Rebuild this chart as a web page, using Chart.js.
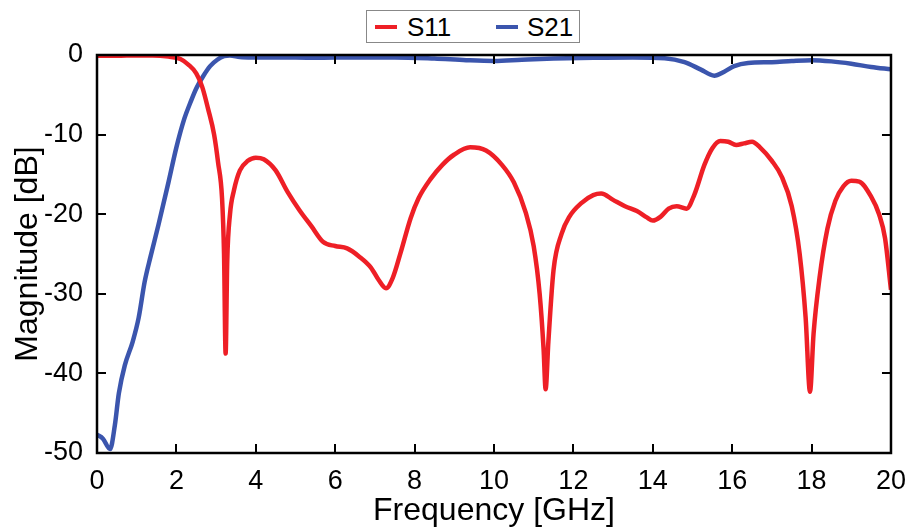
<!DOCTYPE html>
<html>
<head>
<meta charset="utf-8">
<script src="https://cdn.jsdelivr.net/npm/chart.js@4/dist/chart.umd.min.js"></script>
<style>
  html, body { margin: 0; padding: 0; background: #fff; }
  #wrap { position: relative; width: 910px; height: 530px; }
  #legend {
    position: absolute; left: 366px; top: 10px; width: 214px; height: 33px;
    border: 1px solid #888; box-sizing: border-box; background: #fff;
    font-family: "Liberation Sans", Arial, sans-serif; font-size: 26px; color: #000;
  }
  #legend .item { position: absolute; top: 0; line-height: 32px; }
  #legend .swatch { position: absolute; top: 14px; width: 22px; height: 4px; }
</style>
</head>
<body>
<div id="wrap">
  <canvas id="chart" width="910" height="530"></canvas>
  <div id="legend">
    <span class="swatch" style="left:8px;background:#ee1f26"></span>
    <span class="item" style="left:40px">S11</span>
    <span class="swatch" style="left:129px;background:#3b55ad"></span>
    <span class="item" style="left:160px">S21</span>
  </div>
</div>
<script>
// S11 (red)
const s11Freq = [0, 0.5, 1.0, 1.4, 1.8, 2.1, 2.3, 2.5, 2.65, 2.8, 2.95, 3.05, 3.15, 3.2, 3.24, 3.28, 3.35, 3.45, 3.6, 3.8,
  4.0, 4.2, 4.5, 4.8, 5.1, 5.4, 5.7, 6.0, 6.3, 6.6, 6.9, 7.1, 7.28, 7.45, 7.65, 7.9, 8.1, 8.4, 8.7, 9.0,
  9.4, 9.8, 10.2, 10.5, 10.8, 11.0, 11.15, 11.25, 11.3, 11.37, 11.5, 11.7, 11.9, 12.2, 12.5, 12.7, 13.0, 13.3, 13.6, 13.85,
  14.0, 14.2, 14.4, 14.6, 14.85, 15.05, 15.3, 15.5, 15.7, 15.9, 16.1, 16.3, 16.5, 16.7, 17.0, 17.25, 17.5, 17.7, 17.85, 17.96,
  18.05, 18.2, 18.4, 18.6, 18.8, 19.0, 19.2, 19.5, 19.7, 19.85, 20.0];
const s11Db = [-0.1, -0.1, -0.05, -0.05, -0.2, -0.5, -1.2, -2.3, -4.0, -6.8, -10, -13.5, -18, -25, -37.5, -26, -20, -17, -14.5, -13.3,
  -12.9, -13.1, -14.5, -17.2, -19.5, -21.5, -23.5, -24, -24.3, -25.3, -26.7, -28.3, -29.3, -28, -24.8, -20.5, -18, -15.6, -13.8, -12.5,
  -11.6, -12, -13.8, -16, -19.8, -24, -30, -37, -42, -36, -27, -22.5, -20.3, -18.6, -17.6, -17.4, -18.2, -19.0, -19.6, -20.4,
  -20.8, -20.3, -19.3, -19, -19.3, -17.5, -13.8, -11.7, -10.8, -10.9, -11.3, -11.1, -10.9, -11.6, -13.3, -15.3, -19, -25, -33, -42.3,
  -35, -28, -21.8, -18.3, -16.5, -15.8, -15.9, -17.8, -20, -23, -29.5];

// S21 (blue)
const s21Freq = [0, 0.15, 0.33, 0.45, 0.55, 0.7, 0.9, 1.05, 1.2, 1.35, 1.55, 1.8, 2.0, 2.2, 2.35, 2.5, 2.67, 2.85, 3.03, 3.2,
  3.35, 3.6, 3.9, 4.5, 5.5, 6.5, 7.5, 8.5, 9.3, 10.0, 10.7, 11.5, 12.5, 13.5, 14.3, 14.8, 15.2, 15.55, 15.8, 16.05,
  16.4, 17.0, 17.5, 18.0, 18.5, 19.0, 19.5, 20.0];
const s21Db = [-47.7, -48.2, -49.5, -46.5, -42.5, -39, -36, -33, -28.5, -25.3, -21.3, -16, -11.6, -8, -6, -4.2, -2.7, -1.4, -0.6, -0.15,
  -0.05, -0.25, -0.3, -0.3, -0.35, -0.3, -0.3, -0.45, -0.65, -0.75, -0.6, -0.45, -0.35, -0.3, -0.4, -0.9, -1.8, -2.6, -2.1, -1.4,
  -1.0, -0.9, -0.75, -0.65, -0.8, -1.1, -1.5, -1.8];

const xTicks = [0, 2, 4, 6, 8, 10, 12, 14, 16, 18, 20];
const yTicks = [-50, -40, -30, -20, -10, 0];

const FONT = '"Liberation Sans", Arial, sans-serif';

const toPoints = (xs, ys) => xs.map((x, i) => ({ x: x, y: ys[i] }));

// box round the plot with ticks pointing inwards on all four sides
const frameTicks = {
  id: "frameTicks",
  afterDraw(chart) {
    const { ctx, chartArea: a, scales } = chart;
    const len = 9;
    ctx.save();
    ctx.strokeStyle = "#000";
    ctx.lineWidth = 2;
    ctx.beginPath();
    xTicks.forEach(v => {
      const px = Math.round(scales.x.getPixelForValue(v));
      ctx.moveTo(px, a.bottom); ctx.lineTo(px, a.bottom - len);
      ctx.moveTo(px, a.top); ctx.lineTo(px, a.top + len);
    });
    yTicks.forEach(v => {
      const py = Math.round(scales.y.getPixelForValue(v));
      ctx.moveTo(a.left, py); ctx.lineTo(a.left + len, py);
      ctx.moveTo(a.right, py); ctx.lineTo(a.right - len, py);
    });
    ctx.stroke();
    ctx.lineWidth = 2.5;
    ctx.strokeRect(a.left, a.top, a.right - a.left, a.bottom - a.top);
    ctx.restore();
  }
};

new Chart(document.getElementById("chart"), {
  type: "line",
  data: {
    datasets: [
      {
        label: "S11",
        data: toPoints(s11Freq, s11Db),
        borderColor: "#ee1f26",
        borderWidth: 4.5,
        pointRadius: 0,
        cubicInterpolationMode: "monotone",
        fill: false
      },
      {
        label: "S21",
        data: toPoints(s21Freq, s21Db),
        borderColor: "#3b55ad",
        borderWidth: 4.5,
        pointRadius: 0,
        cubicInterpolationMode: "monotone",
        fill: false
      }
    ]
  },
  plugins: [frameTicks],
  options: {
    responsive: false,
    animation: false,
    layout: { padding: { left: 0, right: 19, top: 55, bottom: 0 } },
    plugins: { legend: { display: false }, tooltip: { enabled: false } },
    scales: {
      x: {
        type: "linear",
        min: 0,
        max: 20,
        afterBuildTicks: s => { s.ticks = xTicks.map(v => ({ value: v })); },
        afterFit: s => { s.height = 77; },
        grid: { display: false },
        border: { display: false },
        ticks: { color: "#000", padding: 4, maxRotation: 0, font: { family: FONT, size: 27 } },
        title: {
          display: true,
          text: "Frequency [GHz]",
          color: "#000",
          padding: { top: 0, bottom: 0 },
          font: { family: FONT, size: 32 }
        }
      },
      y: {
        min: -50,
        max: 0,
        afterBuildTicks: s => { s.ticks = yTicks.map(v => ({ value: v })); },
        afterFit: s => { s.width = 97; },
        grid: { display: false },
        border: { display: false },
        ticks: { color: "#000", padding: 6, font: { family: FONT, size: 27 } },
        title: {
          display: true,
          text: "Magnitude [dB]",
          color: "#000",
          padding: { top: 9, bottom: 0 },
          font: { family: FONT, size: 32 }
        }
      }
    }
  }
});
</script>
</body>
</html>
